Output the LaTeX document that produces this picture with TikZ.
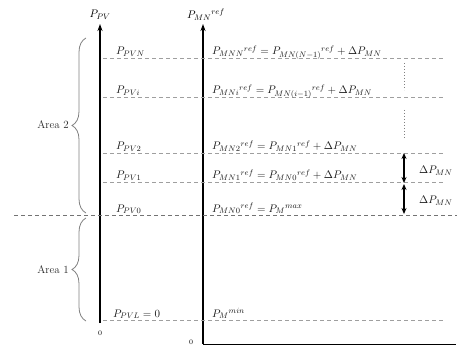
\documentclass[tikz,border=0pt]{standalone}
\usetikzlibrary{arrows.meta,decorations.pathreplacing}
\DeclareMathSizes{11}{11}{8.5}{7}
\begin{document}
\begin{tikzpicture}[x=1pt,y=-1pt,font=\fontsize{11}{13}\selectfont,
  lvl/.style={draw=gray!75,dash pattern=on 4pt off 3pt,line width=0.7pt},
  axisline/.style={draw=black,line width=1.6pt,-{Stealth[length=7pt,width=5pt]}},
  lab/.style={anchor=base west,inner sep=0pt,text=black!90},
  brc/.style={draw=gray,line width=0.8pt,decorate,decoration={brace,amplitude=14pt}},
  darr/.style={line width=1.4pt,{Stealth[length=6pt,width=5pt]}-{Stealth[length=6pt,width=5pt]}},
  dotv/.style={draw=gray,dotted,line width=1pt}]
\useasboundingbox (0,0) rectangle (457,347);
% axes
\coordinate (LAb) at (100,323); \coordinate (LAt) at (100,24);
\coordinate (RAb) at (203,344); \coordinate (RAt) at (203,24);
\coordinate (HAe) at (456,344);
\draw[axisline] (LAb) -- (LAt);
\draw[axisline] (RAb) -- (RAt);
\draw[line width=0.9pt] (RAb) -- (HAe);
\node (lpv) at (100,15) {$P_{PV}$};
\node (rpm) at (206,15) {$P_{MN}{}^{ref}$};
\node (z1) at (100,333) {\scriptsize $0$};
\node (z2) at (191,342) {\scriptsize $0$};
% level lines
\foreach \n/\y in {N/58,i/97,2/153,1/182,L/320}{
  \coordinate (s\n) at (103,\y); \coordinate (e\n) at (445,\y);
  \draw[lvl] (s\n) -- (e\n);
}
\coordinate (s0) at (14,215); \coordinate (e0) at (457,215);
\draw[lvl,draw=gray!90!black] (s0) -- (e0);
% left labels
\node[lab] (pN) at (116,55) {$P_{PVN}$};
\node[lab] (pi) at (116,94) {$P_{PVi}$};
\node[lab] (p2) at (116,150) {$P_{PV2}$};
\node[lab] (p1) at (116,179) {$P_{PV1}$};
\node[lab] (p0) at (116,212) {$P_{PV0}$};
\node[lab] (pL) at (113,317) {$P_{PVL}=0$};
% right labels
\node[lab] (mN) at (212,55) {$P_{MNN}{}^{ref}=P_{MN(N-1)}{}^{ref}+\Delta P_{MN}$};
\node[lab] (mi) at (212,94) {$P_{MNi}{}^{ref}=P_{MN(i-1)}{}^{ref}+\Delta P_{MN}$};
\node[lab] (m2) at (212,150) {$P_{MN2}{}^{ref}=P_{MN1}{}^{ref}+\Delta P_{MN}$};
\node[lab] (m1) at (212,179) {$P_{MN1}{}^{ref}=P_{MN0}{}^{ref}+\Delta P_{MN}$};
\node[lab] (m0) at (212,212) {$P_{MN0}{}^{ref}=P_{M}{}^{max}$};
\node[lab] (mL) at (212,317) {$P_{M}{}^{min}$};
% dotted continuation
\coordinate (d1a) at (404,63); \coordinate (d1b) at (404,90);
\coordinate (d2a) at (404,110); \coordinate (d2b) at (404,138);
\draw[dotv] (d1a) -- (d1b);
\draw[dotv] (d2a) -- (d2b);
% delta arrows
\coordinate (a1) at (404,153); \coordinate (a2) at (404,183);
\coordinate (a3) at (404,184); \coordinate (a4) at (404,214);
\draw[darr] (a1) -- (a2);
\draw[darr] (a3) -- (a4);
\node[lab] (dl1) at (419,174) {$\Delta P_{MN}$};
\node[lab] (dl2) at (419,204) {$\Delta P_{MN}$};
% braces
\coordinate (b2t) at (86,38); \coordinate (b2b) at (86,213);
\coordinate (b1t) at (86,218); \coordinate (b1b) at (86,321);
\draw[brc] (b2b) -- (b2t);
\draw[brc] (b1b) -- (b1t);
\node[anchor=east,inner sep=1pt,text=black!85] (ar2) at (70,125) {Area 2};
\node[anchor=east,inner sep=1pt,text=black!85] (ar1) at (70,270) {Area 1};
\end{tikzpicture}
\end{document}
